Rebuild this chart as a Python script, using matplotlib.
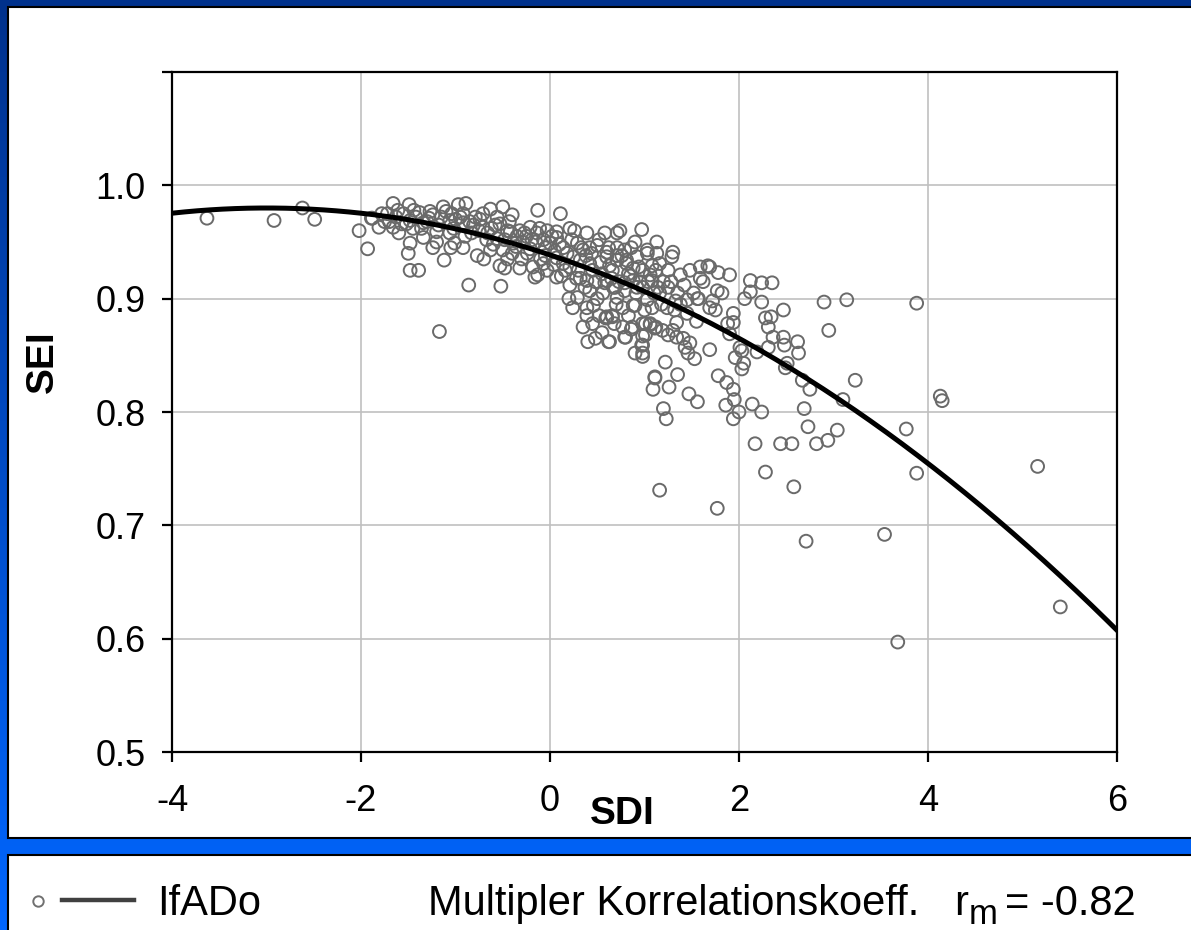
import numpy as np
import matplotlib.pyplot as plt
from matplotlib.patches import Rectangle
from matplotlib.colors import LinearSegmentedColormap

plt.rcParams['font.family'] = ['Liberation Sans', 'DejaVu Sans']

# SDI / SEI pairs
sdi = [
    -3.63, -2.92, -2.62, -2.49, -2.02, -1.93, -1.89, -1.48, -1.17, -1.12, -0.86, -0.52, -0.13, 0.11, -1.39,
    -1.66, -1.49, -1.13, -0.97, -0.89, -0.63, -0.50, -0.40,
    -1.72, -1.61, -1.38, -1.27, -1.24, -1.04, -0.92, -0.79, -0.71, -0.56,
    -1.88, -1.81, -1.66, -1.57, -1.48, -1.45, -1.34, -1.20, -1.06, -0.92, -0.81, -0.71, -0.53, -0.42,
    -0.32, -0.21, -0.14, -0.03, 0.07, 0.21, 0.26, 0.39, 0.58, 0.71, 0.74, 0.97, 1.13,
    -1.48, -1.34, -1.24, -1.06, -1.01, -0.92, -0.77, -0.67, -0.63, -0.56, -0.50, -0.39, -0.29, -0.21,
    -0.07, 0.00, 0.07, 0.14, 0.29, 0.35, 0.42, 0.50, 0.60, 0.71, 0.79, 0.90, 1.03, 1.13,
    -0.53, -0.48, -0.32, -0.18, -0.07, -0.03, 0.07, 0.14, 0.21, 0.32, 0.42, 0.53, 0.63, 0.71, 0.81,
    0.88, 0.98, 1.08,
    -0.16, -0.13, 0.07, 0.21, 0.42, 0.39, 0.32, 0.60, 0.67, 0.79, 0.88, 0.98, 1.08, 1.14,
    0.29, 0.24, 0.39, 0.46, 0.39, 0.60, 0.66, 0.71, 0.77, 0.90, 1.08, 1.11, 0.77, 0.87, 0.98, 1.06,
    1.01, 0.79, 0.40, 0.48, 0.63, 0.90, 0.98, 1.11, 0.98,
    0.60, 0.71, 0.81, 0.92, 1.03, 1.16, 1.29, 1.30, 1.38, 1.48, 1.59, 1.69,
    0.58, 0.69, 0.79, 0.92, 1.06, 1.16, 1.25, 1.35, 1.45, 1.57,
    0.60, 0.88, 1.03, 1.24, 1.32, 1.45,
    2.90, 3.14, 3.88, 2.95, 3.23, 3.10, 3.77, 2.58, 2.28, 1.16, 2.17, 2.44, 2.56, 2.82, 2.94, 3.04,
    2.73, 2.69, 2.75, 2.67, 2.51, 2.49, 2.63, 2.62, 2.47, 2.47, 2.48, 2.36, 2.31, 2.28, 2.34, 2.31,
    2.24, 2.19, 2.35, 2.24, 2.12, 2.12, 2.06, 2.24, 2.14, 2.00, 1.94, 1.86, 1.95, 1.94, 1.87, 1.78,
    2.03, 2.05, 1.96, 2.03, 2.01, 1.94, 1.94, 1.90, 1.75, 1.69, 1.77, 1.90, 1.78, 1.67, 1.59, 1.56,
    1.69, 1.53, 1.46, 1.43, 1.48, 1.56, 1.47, 1.35, 1.26, 1.22, 1.11, 1.09, 1.20, 1.23, 1.19, 1.25,
    1.34, 1.41, 1.34, 1.01, 1.06, 0.98, 0.97, 0.98, 0.80, 0.86, 0.62, 0.59, 0.66,
    5.16, 1.77, 3.88, 2.71, 3.54, 3.68, 5.40, 4.13, 4.15,
    -1.55, -1.42, -1.30, -1.15, -1.00, -0.85, -0.75, -0.62, -0.45, -0.35, -0.25, -0.15, -0.05, 0.05,
    0.18, 0.25, 0.38, 0.45, 0.55, 0.65, 0.85, 0.95, 1.10, 1.20, 1.25, 1.38, 0.30, 0.12, -0.10, -0.40,
    -0.60, -0.90, -1.20, -1.60, -1.75, -1.50, -1.05, -0.70, -0.30, 0.20, 0.50, 0.70, 1.00, 0.35, 0.55,
    -1.78, -1.70, -1.63, -1.52, -1.44, -1.36, -1.28, -1.18, -1.10, -1.02,
    -0.95, -0.83, -0.74, -0.66, -0.58, -0.48, -0.43, -0.36, -0.27, -0.19, -0.11, -0.05, 0.02, -0.24, -0.45,
    0.04, 0.10, 0.16, 0.23, 0.28, 0.33, 0.37, 0.44, 0.48, 0.52, 0.56, 0.62, 0.66, 0.73, 0.76, 0.83,
    0.86, 0.91, 0.94, 0.52, 0.68, 0.45, 0.83,
    1.04, 1.12, 1.18, 1.28, 1.33, 1.42, 1.52, 1.62, 1.72, 1.82, 1.88, 1.12, 1.30, 1.55,
]
sei = [
    0.971, 0.969, 0.980, 0.970, 0.960, 0.944, 0.971, 0.925, 0.871, 0.934, 0.912, 0.911, 0.978, 0.975, 0.925,
    0.984, 0.983, 0.981, 0.983, 0.984, 0.979, 0.981, 0.974,
    0.975, 0.978, 0.976, 0.977, 0.974, 0.975, 0.975, 0.972, 0.975, 0.972,
    0.971, 0.963, 0.963, 0.966, 0.969, 0.962, 0.967, 0.959, 0.969, 0.967, 0.965, 0.963, 0.966, 0.959,
    0.960, 0.963, 0.958, 0.960, 0.959, 0.962, 0.960, 0.958, 0.958, 0.958, 0.960, 0.961, 0.950,
    0.949, 0.954, 0.945, 0.958, 0.949, 0.945, 0.938, 0.952, 0.943, 0.953, 0.943, 0.949, 0.950, 0.944,
    0.952, 0.949, 0.954, 0.945, 0.949, 0.943, 0.945, 0.947, 0.941, 0.945, 0.943, 0.950, 0.943, 0.940,
    0.929, 0.927, 0.927, 0.928, 0.931, 0.925, 0.936, 0.931, 0.928, 0.934, 0.931, 0.932, 0.929, 0.934, 0.931,
    0.927, 0.925, 0.929,
    0.919, 0.921, 0.919, 0.912, 0.907, 0.916, 0.918, 0.916, 0.910, 0.907, 0.916, 0.910, 0.916, 0.910,
    0.901, 0.892, 0.892, 0.894, 0.885, 0.884, 0.885, 0.901, 0.892, 0.894, 0.892, 0.874, 0.875, 0.875, 0.878, 0.878,
    0.868, 0.866, 0.862, 0.865, 0.862, 0.852, 0.852, 0.831, 0.859,
    0.937, 0.938, 0.934, 0.937, 0.940, 0.931, 0.937, 0.941, 0.921, 0.925, 0.918, 0.928,
    0.914, 0.910, 0.914, 0.910, 0.921, 0.905, 0.910, 0.905, 0.899, 0.900,
    0.883, 0.894, 0.899, 0.892, 0.890, 0.887,
    0.897, 0.899, 0.896, 0.872, 0.828, 0.811, 0.785, 0.734, 0.747, 0.731, 0.772, 0.772, 0.772, 0.772, 0.775, 0.784,
    0.787, 0.803, 0.820, 0.828, 0.843, 0.839, 0.852, 0.862, 0.890, 0.866, 0.859, 0.866, 0.857, 0.883, 0.884, 0.875,
    0.897, 0.853, 0.914, 0.914, 0.916, 0.906, 0.900, 0.800, 0.807, 0.800, 0.794, 0.806, 0.811, 0.820, 0.826, 0.832,
    0.838, 0.843, 0.848, 0.854, 0.857, 0.887, 0.879, 0.869, 0.890, 0.892, 0.907, 0.921, 0.923, 0.929, 0.928, 0.900,
    0.855, 0.847, 0.852, 0.857, 0.861, 0.809, 0.816, 0.833, 0.822, 0.844, 0.830, 0.820, 0.803, 0.794, 0.872, 0.868,
    0.866, 0.865, 0.879, 0.878, 0.877, 0.867, 0.859, 0.849, 0.866, 0.873, 0.862, 0.883, 0.884,
    0.752, 0.715, 0.746, 0.686, 0.692, 0.597, 0.628, 0.814, 0.810,
    0.975, 0.972, 0.968, 0.972, 0.970, 0.968, 0.960, 0.962, 0.960, 0.955, 0.955, 0.950, 0.945, 0.942,
    0.940, 0.937, 0.938, 0.925, 0.922, 0.918, 0.920, 0.915, 0.905, 0.915, 0.925, 0.895, 0.925, 0.920, 0.935, 0.940,
    0.948, 0.955, 0.950, 0.958, 0.968, 0.940, 0.945, 0.935, 0.935, 0.900, 0.900, 0.895, 0.890, 0.875, 0.870,
    0.975, 0.968, 0.972, 0.966, 0.978, 0.962, 0.971, 0.965, 0.977, 0.962,
    0.972, 0.958, 0.970, 0.958, 0.965, 0.952, 0.968, 0.946, 0.958, 0.952, 0.962, 0.938, 0.955, 0.940, 0.935,
    0.930, 0.948, 0.925, 0.952, 0.918, 0.945, 0.910, 0.940, 0.915, 0.952, 0.905, 0.945, 0.925, 0.915, 0.938, 0.922,
    0.945, 0.905, 0.928, 0.885, 0.878, 0.878, 0.885,
    0.915, 0.925, 0.895, 0.915, 0.898, 0.912, 0.905, 0.915, 0.898, 0.905, 0.878, 0.875, 0.872, 0.880,
]

# quadratic trend line (highest power first)
trend_coeffs = [-0.0046, -0.0276, 0.9386]

x_ticks = [-4, -2, 0, 2, 4, 6]
x_ticklabels = ['-4', '-2', '0', '2', '4', '6']
y_ticks = [0.5, 0.6, 0.7, 0.8, 0.9, 1.0, 1.1]
y_ticklabels = ['0.5', '0.6', '0.7', '0.8', '0.9', '1.0', '']

W, H = 1191, 930
fig = plt.figure(figsize=(W / 100, H / 100), dpi=100)

# blue gradient backdrop with the two white panels
bg = fig.add_axes([0, 0, 1, 1], zorder=0)
cmap = LinearSegmentedColormap.from_list('slide', ['#00318c', '#0066ff'])
bg.imshow(np.linspace(0, 1, 256).reshape(-1, 1), cmap=cmap, aspect='auto',
          extent=[0, 1, 0, 1], origin='upper')
bg.add_patch(Rectangle((8 / W, 1 - 838 / H), 1.0, (838 - 7) / H,
                       facecolor='white', edgecolor='black', lw=1.5))
bg.add_patch(Rectangle((8 / W, -0.05), 1.0, (930 - 855) / H + 0.05,
                       facecolor='white', edgecolor='black', lw=1.5))
bg.set_xlim(0, 1)
bg.set_ylim(0, 1)
bg.axis('off')

# legend row in the lower panel
bg.plot([38 / W], [1 - 901 / H], 'o', mfc='none', mec='#707070', ms=7.5, mew=1.4)
bg.plot([62 / W, 134 / W], [1 - 900 / H] * 2, color='#404040', lw=3.2)
fig.text(157 / W, 1 - 915 / H, 'IfADo', fontsize=30, va='baseline')
fig.text(428 / W, 1 - 915 / H, 'Multipler Korrelationskoeff.', fontsize=30, va='baseline')
fig.text(954 / W, 1 - 915 / H, 'r', fontsize=30, va='baseline')
fig.text(969 / W, 1 - 924 / H, 'm', fontsize=25, va='baseline')
fig.text(1005 / W, 1 - 915 / H, '= -0.82', fontsize=30, va='baseline')

ax = fig.add_axes([172 / W, 1 - 752 / H, (1117 - 172) / W, (752 - 72) / H], zorder=1)
ax.set_facecolor('white')
ax.scatter(sdi, sei, s=85, facecolors='none', edgecolors='#6a6a6a', linewidths=1.4, zorder=2)
xs = np.linspace(-4, 6, 300)
ax.plot(xs, np.polyval(trend_coeffs, xs), color='black', lw=3.6, zorder=3)

ax.set_xlim(-4, 6)
ax.set_ylim(0.5, 1.1)
ax.set_xticks(x_ticks)
ax.set_xticklabels(x_ticklabels)
ax.set_yticks(y_ticks)
ax.set_yticklabels(y_ticklabels)
ax.grid(True, color='#c0c0c0', lw=1.2, zorder=0)
ax.set_axisbelow(True)
for sp in ax.spines.values():
    sp.set_linewidth(1.6)
ax.tick_params(axis='both', direction='out', length=7, width=1.6, labelsize=26)
ax.tick_params(axis='x', pad=16)
ax.tick_params(axis='y', pad=12)

fig.text(43 / W, 1 - 362 / H, 'SEI', fontsize=28, fontweight='bold',
         rotation=90, ha='center', va='center')
fig.text(622 / W, 1 - 814 / H, 'SDI', fontsize=28, fontweight='bold',
         ha='center', va='center')

fig.savefig('out.png', dpi=100)
